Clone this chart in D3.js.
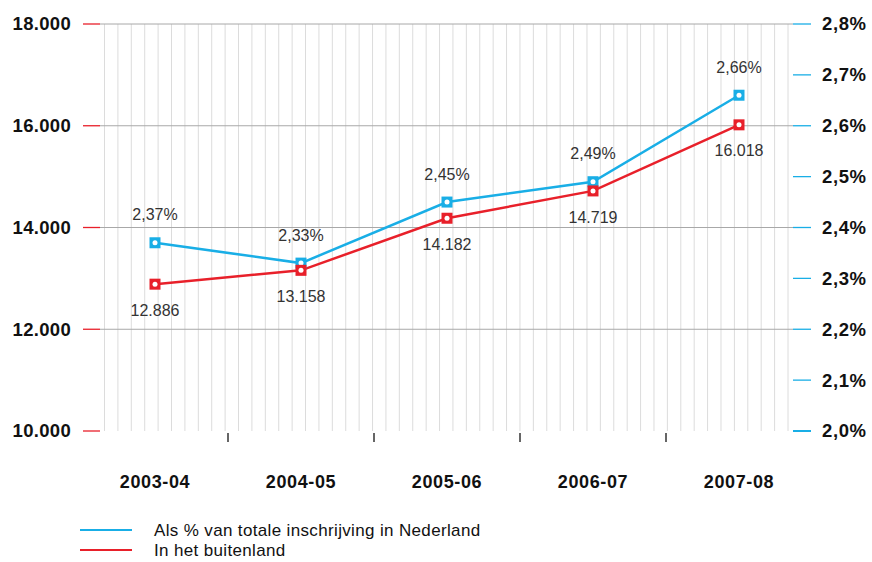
<!doctype html>
<html>
<head>
<meta charset="utf-8">
<title>Inschrijvingen buitenland</title>
<style>
* {padding:0;margin:0}
body {background:#fff}
</style>
</head>
<body>
<div id="chart"></div>
<script src="https://d3js.org/d3.v7.min.js"></script>
<script>
const jaren = ["2003-04", "2004-05", "2005-06", "2006-07", "2007-08"];
const buitenland = [12886, 13158, 14182, 14719, 16018];
const procent = [2.37, 2.33, 2.45, 2.49, 2.66];
const linksTicks = [10000, 12000, 14000, 16000, 18000];
const rechtsTicks = [2.0, 2.1, 2.2, 2.3, 2.4, 2.5, 2.6, 2.7, 2.8];
const legenda = ["Als % van totale inschrijving in Nederland", "In het buitenland"];

const blauw = "#19aee6", rood = "#e8202a";
const W = 872, H = 562;
const boven = 24, onder = 431;
const gridL = 100, gridR = 793;

const svg = d3.select("#chart").append("svg")
	.attr("width", W).attr("height", H)
	.style("font-family", "'Liberation Sans', Arial, sans-serif");

const x = d3.scaleBand().domain(jaren).range([82, 812]);
const yL = d3.scaleLinear().domain([10000, 18000]).range([onder, boven]);
const yR = d3.scaleLinear().domain([2.0, 2.8]).range([onder, boven]);
const cx = d => x(d) + x.bandwidth() / 2;

// fijne verticale rasterlijnen
const vLijnen = d3.range(52).map(i => 104.5 + i * (788 - 104.5) / 51);
svg.append("g").selectAll("line").data(vLijnen).enter().append("line")
	.attr("x1", d => d).attr("x2", d => d)
	.attr("y1", boven).attr("y2", onder)
	.attr("stroke", "#dcdcdc").attr("stroke-width", 1);

// horizontale rasterlijnen
svg.append("g").selectAll("line").data(linksTicks.filter(d => d > 10000)).enter().append("line")
	.attr("x1", gridL).attr("x2", gridR)
	.attr("y1", d => yL(d)).attr("y2", d => yL(d))
	.attr("stroke", "#a8a8a8").attr("stroke-width", 1);

// linker as
const fmtL = d => d3.format(",")(d).replace(/,/g, ".");
const gL = svg.append("g");
gL.selectAll("line").data(linksTicks).enter().append("line")
	.attr("x1", 83).attr("x2", 100)
	.attr("y1", d => yL(d)).attr("y2", d => yL(d))
	.attr("stroke", rood).attr("stroke-width", 1.3);
gL.selectAll("text").data(linksTicks).enter().append("text")
	.attr("x", 71).attr("y", d => yL(d)).attr("dy", "0.35em")
	.attr("text-anchor", "end").attr("font-size", 18.5).attr("font-weight", "bold")
	.attr("letter-spacing", 0.3)
	.attr("fill", "#111").text(fmtL);

// rechter as
const gR = svg.append("g");
gR.selectAll("line").data(rechtsTicks).enter().append("line")
	.attr("x1", 793).attr("x2", 811)
	.attr("y1", d => yR(d)).attr("y2", d => yR(d))
	.attr("stroke", blauw).attr("stroke-width", d => d === 2.0 ? 2 : 1.3);
gR.selectAll("text").data(rechtsTicks).enter().append("text")
	.attr("x", 822).attr("y", d => yR(d)).attr("dy", "0.35em")
	.attr("font-size", 18.5).attr("font-weight", "bold").attr("letter-spacing", 0.6)
	.attr("fill", "#111").text(d => d.toFixed(1).replace(".", ",") + "%");

// categorie-as
const tussen = jaren.slice(1).map(d => x(d));
svg.append("g").selectAll("line").data(tussen).enter().append("line")
	.attr("x1", d => d).attr("x2", d => d)
	.attr("y1", 433).attr("y2", 442)
	.attr("stroke", "#333").attr("stroke-width", 1.5);
svg.append("g").selectAll("text").data(jaren).enter().append("text")
	.attr("x", cx).attr("y", 482).attr("dy", "0.35em")
	.attr("text-anchor", "middle").attr("font-size", 18).attr("font-weight", "bold")
	.attr("letter-spacing", 0.6)
	.attr("fill", "#111").text(d => d);

// lijnen
const lijnR = d3.line().x((d, i) => cx(jaren[i])).y(d => yL(d));
const lijnB = d3.line().x((d, i) => cx(jaren[i])).y(d => yR(d));
svg.append("path").attr("d", lijnB(procent)).attr("fill", "none")
	.attr("stroke", blauw).attr("stroke-width", 2.5);
svg.append("path").attr("d", lijnR(buitenland)).attr("fill", "none")
	.attr("stroke", rood).attr("stroke-width", 2.5);

function markers(data, y, kleur) {
	const g = svg.append("g");
	g.selectAll("rect").data(data).enter().append("rect")
		.attr("x", (d, i) => cx(jaren[i]) - 5.5).attr("y", d => y(d) - 5.5)
		.attr("width", 11).attr("height", 11).attr("fill", kleur);
	g.selectAll("circle").data(data).enter().append("circle")
		.attr("cx", (d, i) => cx(jaren[i])).attr("cy", d => y(d))
		.attr("r", 2.5).attr("fill", "#fff");
}
markers(procent, yR, blauw);
markers(buitenland, yL, rood);

// waardelabels
svg.append("g").selectAll("text").data(procent).enter().append("text")
	.attr("x", (d, i) => cx(jaren[i])).attr("y", d => yR(d) - 28).attr("dy", "0.35em")
	.attr("text-anchor", "middle").attr("font-size", 16).attr("fill", "#333")
	.text(d => d.toFixed(2).replace(".", ",") + "%");
svg.append("g").selectAll("text").data(buitenland).enter().append("text")
	.attr("x", (d, i) => cx(jaren[i])).attr("y", d => yL(d) + 26).attr("dy", "0.35em")
	.attr("text-anchor", "middle").attr("font-size", 16).attr("fill", "#333")
	.text(fmtL);

// legenda
const leg = svg.append("g").selectAll("g").data(legenda).enter().append("g")
	.attr("transform", (d, i) => "translate(0," + (530 + i * 20) + ")");
leg.append("line").attr("x1", 80).attr("x2", 132)
	.attr("stroke", (d, i) => i === 0 ? blauw : rood).attr("stroke-width", 2);
leg.append("text").attr("x", 154).attr("dy", "0.35em")
	.attr("font-size", 17).attr("letter-spacing", 0.35)
	.attr("fill", "#111").text(d => d);
</script>
</body>
</html>
